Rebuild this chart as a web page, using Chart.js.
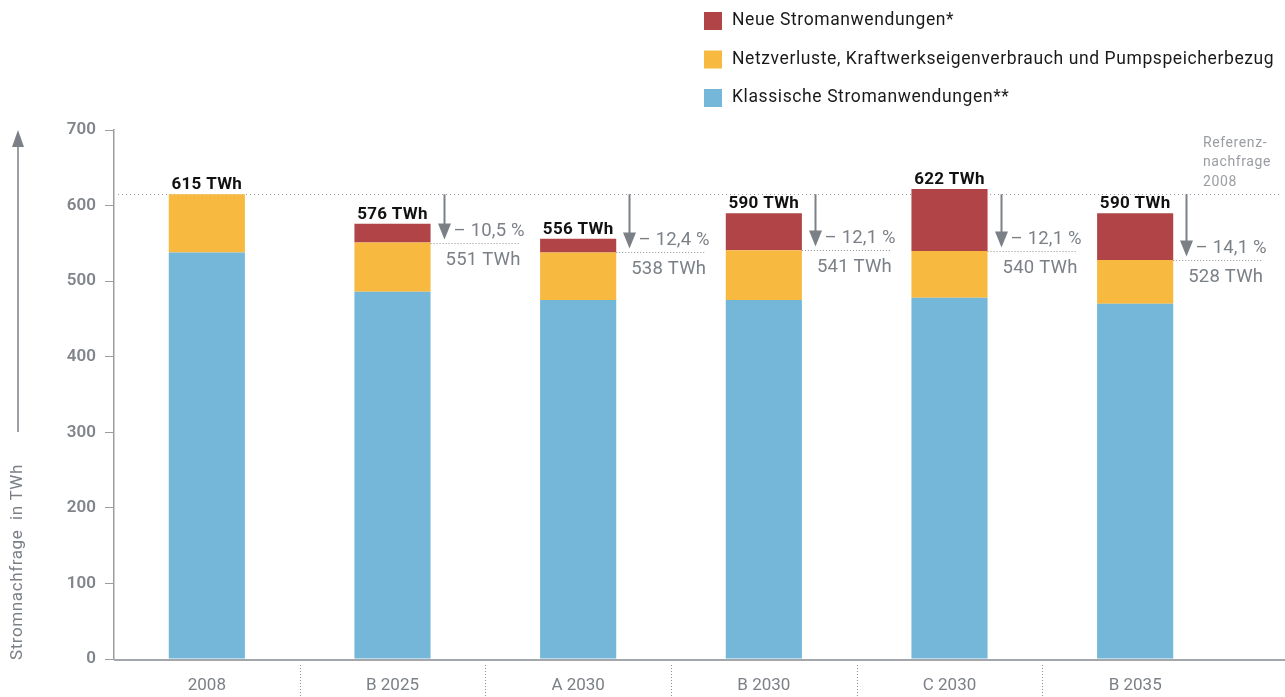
<!DOCTYPE html>
<html>
<head>
<meta charset="utf-8">
<script src="https://cdn.jsdelivr.net/npm/chart.js@4.4.1/dist/chart.umd.min.js"></script>
<style>
  html, body { margin: 0; padding: 0; background: #fff; }
  #wrap { width: 1285px; height: 697px; }
</style>
</head>
<body>
<div id="wrap"><canvas id="chart"></canvas></div>
<script>
// ---- Daten ----
const categories   = ['2008', 'B 2025', 'A 2030', 'B 2030', 'C 2030', 'B 2035'];
const klassisch    = [538, 486, 475, 475, 478, 470];
const netzverluste = [77, 65, 63, 66, 62, 58];
const neu          = [0, 25, 18, 49, 82, 62];
const totalLabels  = ['615 TWh', '576 TWh', '556 TWh', '590 TWh', '622 TWh', '590 TWh'];
const changeLabels = [null, '– 10,5 %', '– 12,4 %', '– 12,1 %', '– 12,1 %', '– 14,1 %'];
const baseLabels   = [null, '551 TWh', '538 TWh', '541 TWh', '540 TWh', '528 TWh'];
const referenz     = 615;
const yTicks       = [0, 100, 200, 300, 400, 500, 600, 700];

const GRAY = '#7b8087';
const FONT = "Roboto, 'Noto Sans', sans-serif";

// ---- Zeichnungen rund um das Diagramm ----
const extras = {
  id: 'extras',
  beforeDatasetsDraw(chart) {
    const { ctx, scales: { y }, chartArea } = chart;
    // Referenzlinie 2008
    const ry = Math.round(y.getPixelForValue(referenz)) + 0.5;
    ctx.save();
    ctx.strokeStyle = '#9a9ea3';
    ctx.lineWidth = 1;
    ctx.setLineDash([1, 3]);
    ctx.beginPath();
    ctx.moveTo(chartArea.left + 4, ry);
    ctx.lineTo(1282, ry);
    ctx.stroke();
    ctx.restore();
  },
  afterDraw(chart) {
    const { ctx, scales: { x, y }, chartArea } = chart;
    const bars = chart.getDatasetMeta(0).data;
    ctx.save();

    // x-Achse bis zum rechten Rand verlaengern
    ctx.strokeStyle = '#a3a7ab';
    ctx.lineWidth = 2;
    ctx.beginPath();
    ctx.moveTo(chartArea.left, chartArea.bottom + 1);
    ctx.lineTo(1285, chartArea.bottom + 1);
    ctx.stroke();

    // gepunktete Trenner zwischen den Kategorien
    ctx.strokeStyle = '#8c9196';
    ctx.lineWidth = 1;
    ctx.setLineDash([1, 2]);
    for (let i = 1; i < categories.length; i++) {
      const sx = Math.round((x.getPixelForValue(i - 1) + x.getPixelForValue(i)) / 2) + 0.5;
      ctx.beginPath();
      ctx.moveTo(sx, chartArea.bottom + 6);
      ctx.lineTo(sx, 697);
      ctx.stroke();
    }
    ctx.setLineDash([]);

    // Summen ueber den Balken
    ctx.fillStyle = '#111';
    ctx.font = 'bold 17px ' + FONT;
    ctx.letterSpacing = '0.3px';
    ctx.textAlign = 'center';
    ctx.textBaseline = 'alphabetic';
    categories.forEach((c, i) => {
      const total = klassisch[i] + netzverluste[i] + neu[i];
      ctx.fillText(totalLabels[i], bars[i].x, y.getPixelForValue(total) - 5);
    });

    // Pfeile, Prozente und Basiswerte
    categories.forEach((c, i) => {
      if (!changeLabels[i]) return;
      const right = bars[i].x + bars[i].width / 2;
      const base = klassisch[i] + netzverluste[i];
      const by = Math.round(y.getPixelForValue(base)) + 0.5;
      const ay = y.getPixelForValue(referenz);
      const ax = Math.round(right + 13) + 0.5;

      // gepunktete Linie auf Basishoehe
      ctx.strokeStyle = '#8c9196';
      ctx.lineWidth = 1;
      ctx.setLineDash([1, 2]);
      ctx.beginPath();
      ctx.moveTo(right, by);
      ctx.lineTo(right + 90, by);
      ctx.stroke();
      ctx.setLineDash([]);

      // Pfeil
      ctx.strokeStyle = GRAY;
      ctx.fillStyle = GRAY;
      ctx.lineWidth = 2;
      ctx.beginPath();
      ctx.moveTo(ax, ay);
      ctx.lineTo(ax, by - 16);
      ctx.stroke();
      ctx.beginPath();
      ctx.moveTo(ax - 6.5, by - 20);
      ctx.lineTo(ax + 6.5, by - 20);
      ctx.lineTo(ax, by - 4);
      ctx.closePath();
      ctx.fill();

      ctx.font = '18.5px ' + FONT;
      ctx.letterSpacing = '0.2px';
      ctx.textBaseline = 'middle';
      ctx.textAlign = 'left';
      ctx.fillText(changeLabels[i], ax + 9, by - 12);
      ctx.textAlign = 'right';
      ctx.fillText(baseLabels[i], right + 90, by + 17);
    });

    // Referenz-Beschriftung
    ctx.fillStyle = '#9a9ea3';
    ctx.font = '14px ' + FONT;
    ctx.letterSpacing = '0.6px';
    ctx.textAlign = 'left';
    ctx.textBaseline = 'middle';
    ['Referenz-', 'nachfrage', '2008'].forEach((t, k) => ctx.fillText(t, 1203, 143 + k * 19.5));

    // Achsentitel mit Pfeil
    ctx.fillStyle = GRAY;
    ctx.strokeStyle = GRAY;
    ctx.save();
    ctx.translate(18, 660);
    ctx.rotate(-Math.PI / 2);
    ctx.font = '17px ' + FONT;
    ctx.letterSpacing = '0.6px';
    ctx.textAlign = 'left';
    ctx.textBaseline = 'middle';
    ctx.fillText('Stromnachfrage  in TWh', 0, 0);
    ctx.restore();
    ctx.lineWidth = 1.5;
    ctx.beginPath();
    ctx.moveTo(18, 432);
    ctx.lineTo(18, 145);
    ctx.stroke();
    ctx.beginPath();
    ctx.moveTo(12, 147);
    ctx.lineTo(24, 147);
    ctx.lineTo(18, 130);
    ctx.closePath();
    ctx.fill();

    // Legende
    const legend = [2, 1, 0];
    ctx.font = '17.5px ' + FONT;
    ctx.letterSpacing = '0.6px';
    legend.forEach((d, k) => {
      const ds = chart.data.datasets[d];
      const cy = 21 + k * 38.5;
      ctx.fillStyle = ds.backgroundColor;
      ctx.fillRect(704, cy - 9, 18, 18);
      ctx.fillStyle = '#1a1a1a';
      ctx.textAlign = 'left';
      ctx.textBaseline = 'middle';
      ctx.fillText(ds.label, 732, cy);
    });

    ctx.letterSpacing = '0px';
    ctx.restore();
  }
};

new Chart(document.getElementById('chart'), {
  type: 'bar',
  data: {
    labels: categories,
    datasets: [
      { label: 'Klassische Stromanwendungen**', data: klassisch, backgroundColor: '#74b7d9' },
      { label: 'Netzverluste, Kraftwerkseigenverbrauch und Pumpspeicherbezug', data: netzverluste, backgroundColor: '#f8b941' },
      { label: 'Neue Stromanwendungen*', data: neu, backgroundColor: '#b04446' }
    ]
  },
  options: {
    responsive: true,
    maintainAspectRatio: false,
    animation: false,
    layout: { padding: { top: 130, right: 57, left: 0, bottom: 0 } },
    datasets: { bar: { categoryPercentage: 1, barPercentage: 0.41 } },
    plugins: { legend: { display: false }, tooltip: { enabled: false } },
    scales: {
      x: {
        stacked: true,
        grid: { display: false, drawTicks: false },
        border: { display: false },
        ticks: { color: GRAY, font: { family: FONT, size: 17 }, padding: 17 },
        afterFit(s) { s.height = 38; }
      },
      y: {
        stacked: true,
        min: 0,
        max: 700,
        afterBuildTicks(s) { s.ticks = yTicks.map(v => ({ value: v })); },
        grid: { drawOnChartArea: false, drawTicks: true, tickLength: 9, color: '#9a9ea3' },
        border: { display: true, color: '#9a9ea3', width: 1.5 },
        ticks: { color: '#80858b', font: { family: FONT, size: 17, weight: '600' }, padding: 9 },
        afterFit(s) { s.width = 114; }
      }
    }
  },
  plugins: [extras]
});
</script>
</body>
</html>
